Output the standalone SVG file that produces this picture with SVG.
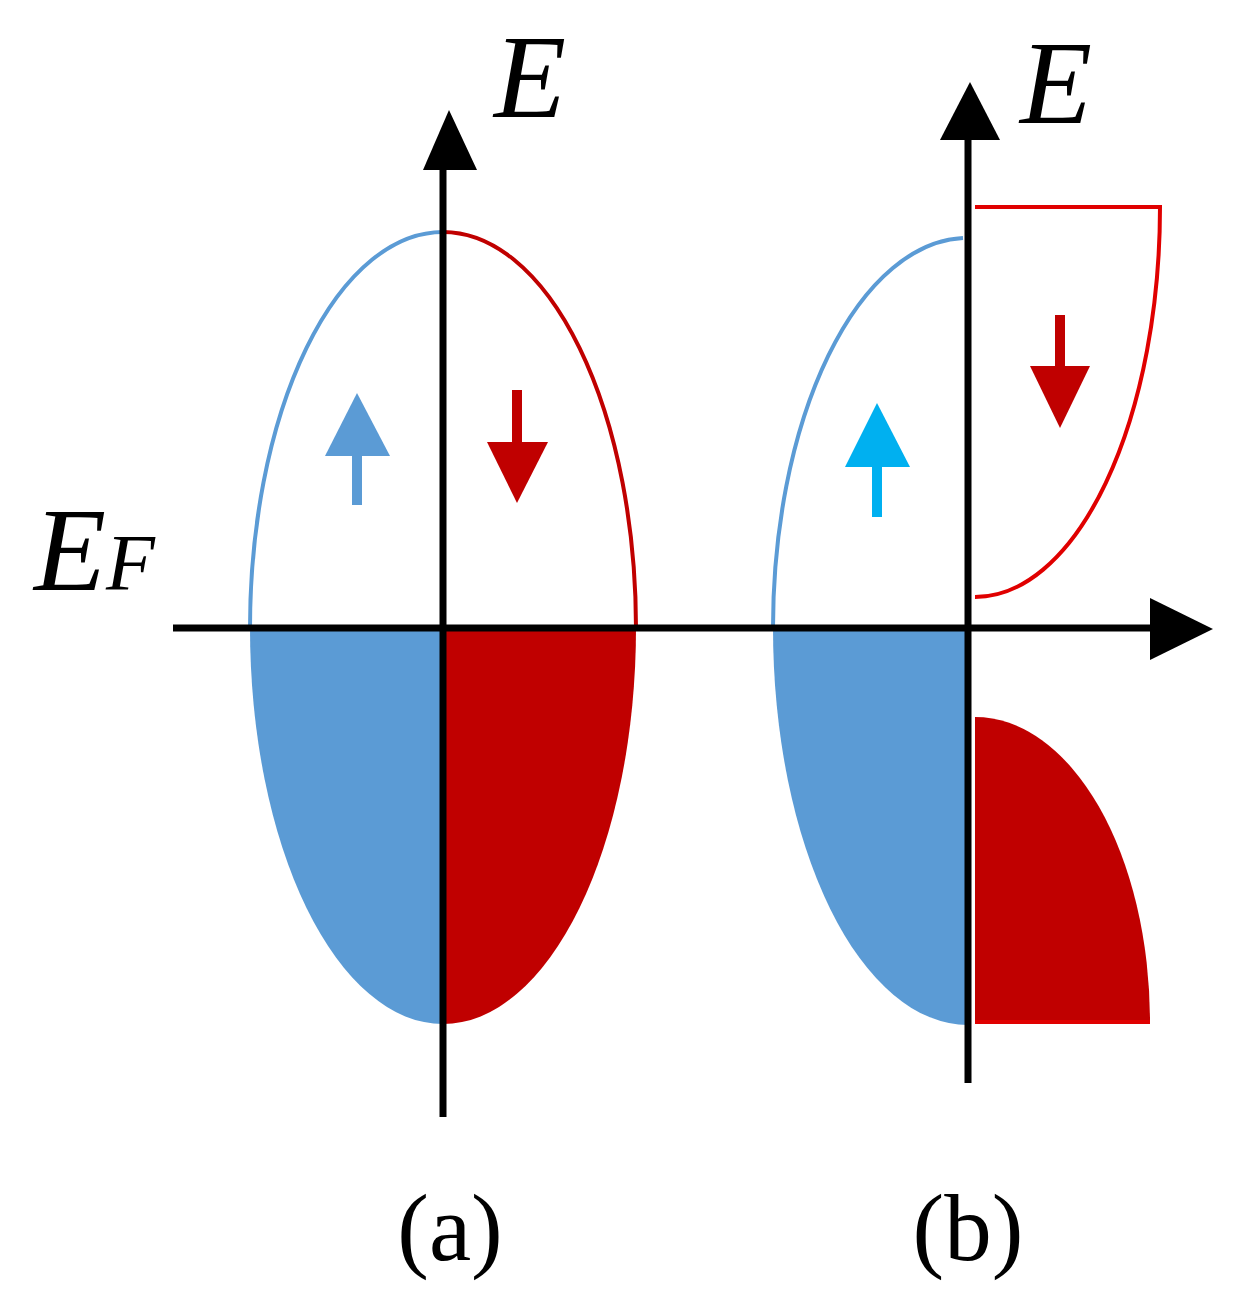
<svg xmlns="http://www.w3.org/2000/svg" width="1253" height="1313" viewBox="0 0 1253 1313">
<style>
.ax{stroke:#000;stroke-width:7;fill:none}
.t{font-family:"Liberation Serif",serif;fill:#000}
.bo{stroke:#5b9bd5;stroke-width:4;fill:none}
.ro{stroke:#c00000;stroke-width:4;fill:none}
</style>
<rect width="1253" height="1313" fill="#fff"/>
<g id="a-bands">
<path d="M443,628 L250,628 A193,396 0 0 0 443,1024 Z" fill="#5b9bd5"/>
<path d="M443,628 L636,628 A193,396 0 0 1 443,1024 Z" fill="#c00000"/>
<path class="bo" d="M250,628 A193,396 0 0 1 443,232"/>
<path class="ro" d="M443,232 A193,396 0 0 1 636,628"/>
</g>
<g id="b-bands">
<path d="M968,628 L773,628 A195,397 0 0 0 968,1025 Z" fill="#5b9bd5"/>
<path class="bo" d="M773,628 A195,390 0 0 1 963,238"/>
<path d="M975,207 H1160 A185,390 0 0 1 975,597" stroke="#e00000" stroke-width="4" fill="none"/>
<path d="M975,717 A175,305 0 0 1 1150,1022 H975 Z" fill="#c00000"/>
<line x1="975" y1="1022" x2="1150" y2="1022" stroke="#e00000" stroke-width="4"/>
</g>
<g id="spins">
<rect x="352" y="450" width="10" height="55" fill="#5b9bd5"/><polygon points="325,456 390,456 357,393" fill="#5b9bd5"/>
<rect x="512" y="390" width="10" height="55" fill="#c00000"/><polygon points="487,442 548,442 517,503" fill="#c00000"/>
<rect x="872" y="460" width="10" height="57" fill="#00b0f0"/><polygon points="845,467 910,467 877,403" fill="#00b0f0"/>
<rect x="1055" y="315" width="10" height="55" fill="#c00000"/><polygon points="1030,366 1090,366 1060,428" fill="#c00000"/>
</g>
<g id="axes">
<line class="ax" x1="443" y1="1117" x2="443" y2="165"/>
<polygon points="423,170 477,170 449,110" fill="#000"/>
<line class="ax" x1="173" y1="628" x2="1155" y2="628"/>
<polygon points="1150,598 1150,660 1213,629" fill="#000"/>
<line class="ax" x1="968" y1="1083" x2="968" y2="135"/>
<polygon points="940,140 1000,140 970,82" fill="#000"/>
</g>
<g id="labels">
<text class="t" x="494" y="117" font-size="118" font-style="italic">E</text>
<text class="t" x="1020" y="123" font-size="118" font-style="italic">E</text>
<text class="t" x="34" y="590" font-size="118" font-style="italic">E<tspan font-size="80">F</tspan></text>
<text class="t" x="450" y="1260" font-size="95" text-anchor="middle">(a)</text>
<text class="t" x="968" y="1260" font-size="95" text-anchor="middle">(b)</text>
</g>
</svg>
